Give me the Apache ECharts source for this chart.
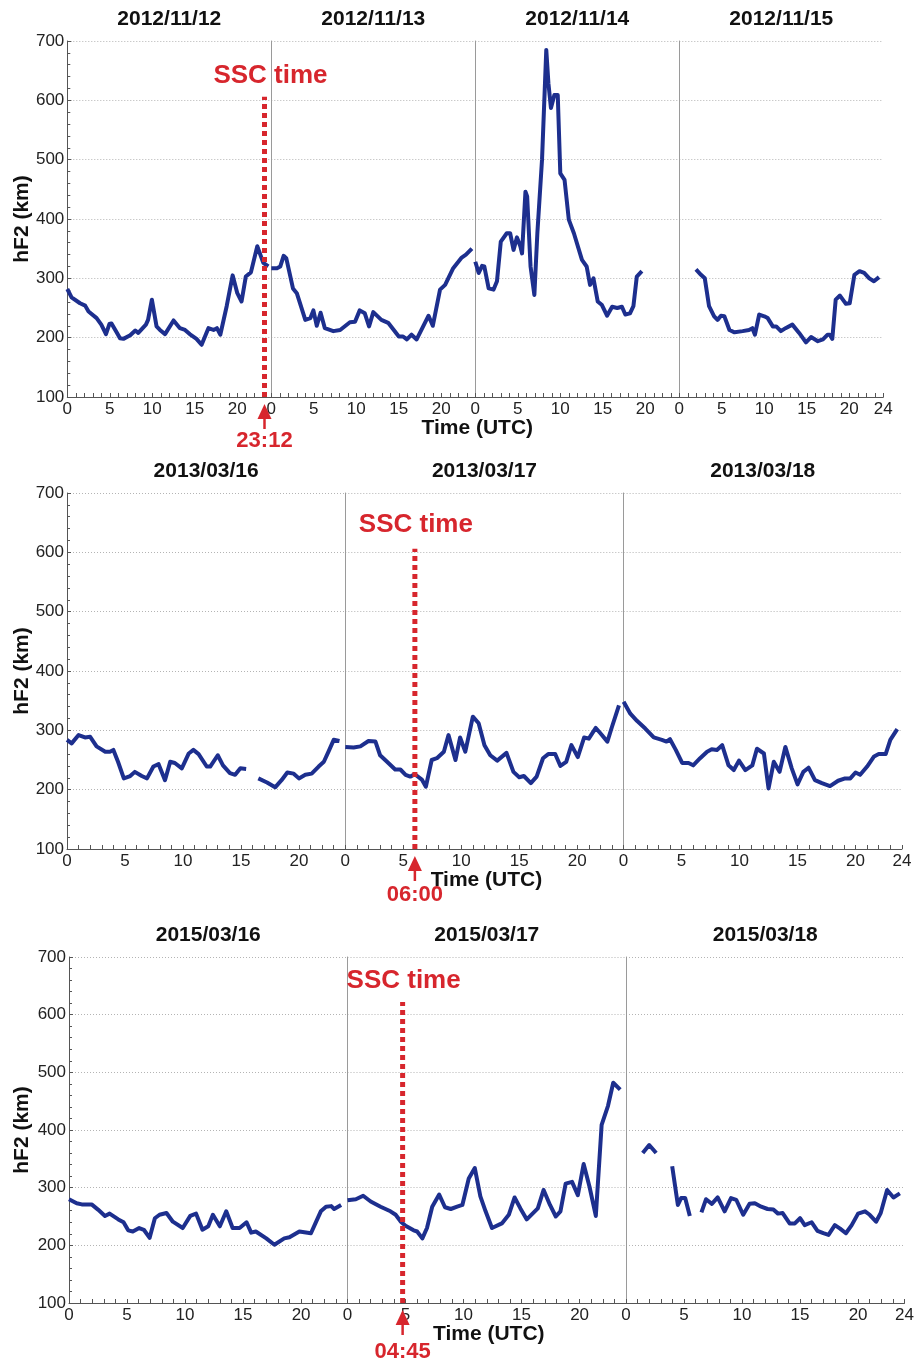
<!DOCTYPE html>
<html>
<head>
<meta charset="utf-8">
<script src="https://cdn.jsdelivr.net/npm/echarts@6/dist/echarts.min.js"></script>
<style>
  html, body { margin: 0; padding: 0; background: #fff; }
  #chart { width: 918px; height: 1362px; }
</style>
</head>
<body>
<div id="chart"></div>
<script>
// hF2 (km) per day as [UTC hour, height]; a null height marks a data gap.
const hf2_20121112 = [[0,282],[0.5,268],[1.5,258],[2.1,254],[2.5,244],[3.45,233],[4.0,222],[4.55,206],[4.95,223],[5.2,224],[5.8,209],[6.2,199],[6.6,198],[7.4,204],[8.0,212],[8.35,208],[9.25,222],[9.5,230],[9.95,264],[10.5,219],[10.9,213],[11.5,206],[12.5,229],[13.25,216],[13.85,213],[14.4,206],[15.2,198],[15.8,188],[16.6,216],[17.2,213],[17.6,216],[18.0,205],[18.75,253],[19.45,305],[20.0,275],[20.5,261],[21.0,303],[21.6,310],[22.35,354],[23.06,326],[23.65,320]];
const hf2_20121113 = [[0,317],[0.67,317],[1.06,320],[1.45,338],[1.76,334],[2.55,283],[3.0,275],[4.0,230],[4.6,233],[4.95,246],[5.35,220],[5.8,242],[6.3,216],[7.3,211],[8.1,213],[9.25,226],[9.85,227],[10.4,246],[11.0,241],[11.5,219],[12.0,243],[12.95,230],[13.75,225],[15.0,202],[15.5,202],[15.95,197],[16.5,205],[17.1,197],[18.5,237],[19.0,220],[19.85,281],[20.45,289],[21.4,317],[22.4,335],[22.9,340],[23.6,350]];
const hf2_20121114 = [[0,328],[0.4,309],[0.8,321],[1.06,320],[1.57,283],[2.15,281],[2.55,295],[3.0,362],[3.7,376],[4.1,376],[4.5,348],[4.9,369],[5.3,354],[5.5,342],[5.9,446],[6.1,438],[6.5,320],[6.95,272],[7.3,376],[7.85,500],[8.35,685],[8.6,629],[8.9,587],[9.3,609],[9.7,609],[10.0,477],[10.5,466],[11.0,399],[11.6,376],[12.55,331],[13.1,320],[13.5,289],[13.9,300],[14.4,261],[14.9,255],[15.5,237],[16.1,252],[16.7,250],[17.25,252],[17.65,239],[18.2,241],[18.6,253],[19.0,303],[19.6,312]];
const hf2_20121115 = [[1.96,315],[2.55,306],[3.0,300],[3.5,253],[4.1,236],[4.5,230],[4.9,237],[5.3,236],[5.9,213],[6.5,209],[7.45,211],[8.2,213],[8.6,216],[8.9,205],[9.4,239],[10.0,236],[10.4,233],[11.0,219],[11.4,219],[11.95,211],[12.5,216],[13.3,222],[14.1,208],[14.9,192],[15.5,201],[16.3,194],[16.9,197],[17.45,205],[17.7,205],[18.0,198],[18.4,264],[18.9,271],[19.6,257],[20.05,258],[20.6,306],[21.2,312],[21.75,309],[22.35,300],[22.9,295],[23.5,302]];

const hf2_20130316 = [[0,284],[0.4,278],[1.0,292],[1.55,288],[2.0,289],[2.55,273],[3.3,264],[3.7,264],[4.0,267],[4.4,247],[4.9,219],[5.45,223],[5.85,230],[6.45,223],[6.9,219],[7.45,239],[7.9,243],[8.45,216],[8.9,247],[9.3,245],[9.9,236],[10.5,261],[10.9,267],[11.35,260],[12.05,239],[12.35,239],[13.0,258],[13.45,241],[14.05,228],[14.5,225],[14.95,236],[15.45,235],[16.0,null],[16.5,219],[17.25,212],[17.95,204],[18.5,216],[19.0,229],[19.55,227],[20.0,219],[20.55,225],[21.1,227],[21.7,239],[22.15,247],[22.55,264],[23.0,284],[23.5,282]];
const hf2_20130317 = [[0,272],[0.72,271],[1.3,273],[2.0,282],[2.6,281],[3.0,258],[3.6,247],[4.3,234],[4.75,234],[5.2,225],[5.6,222],[6.0,226],[6.6,217],[6.95,205],[7.45,250],[7.9,253],[8.5,264],[8.9,292],[9.5,250],[9.9,288],[10.35,264],[11.0,323],[11.5,312],[12.0,275],[12.5,258],[13.1,249],[13.9,262],[14.5,230],[15.0,221],[15.4,223],[16.0,211],[16.5,222],[17.05,253],[17.5,260],[18.1,260],[18.55,240],[19.05,247],[19.5,275],[20.05,255],[20.6,288],[21.0,286],[21.6,304],[22.0,295],[22.6,281],[23.0,306],[23.6,342]];
const hf2_20130318 = [[0,348],[0.58,328],[1.15,316],[1.87,303],[2.6,288],[3.3,284],[3.7,281],[4.0,285],[4.5,267],[5.05,245],[5.6,245],[6.0,241],[6.6,253],[7.2,264],[7.6,268],[8.05,267],[8.5,275],[9.05,241],[9.5,233],[9.95,249],[10.5,233],[11.1,241],[11.5,269],[12.1,261],[12.5,202],[12.95,247],[13.45,230],[13.95,272],[14.5,236],[15.0,209],[15.5,230],[15.95,237],[16.5,216],[17.1,211],[17.8,206],[18.5,215],[19.1,219],[19.55,219],[20.0,229],[20.4,225],[21.0,239],[21.6,256],[22.0,260],[22.6,260],[23.0,284],[23.6,302]];

const hf2_20150316 = [[0,280],[0.66,273],[1.1,271],[1.95,271],[2.5,262],[3.1,251],[3.5,255],[4.25,245],[4.7,240],[5.1,226],[5.5,224],[6.05,230],[6.45,227],[6.95,213],[7.4,247],[7.8,253],[8.4,256],[8.95,241],[9.8,230],[10.45,251],[10.95,255],[11.5,227],[12.0,233],[12.4,253],[13.0,233],[13.55,259],[14.1,230],[14.7,230],[15.3,240],[15.7,222],[16.1,224],[17.0,212],[17.7,201],[18.55,212],[19.0,214],[19.85,224],[20.85,221],[21.3,241],[21.7,259],[22.15,267],[22.6,268],[22.85,263],[23.45,270]];
const hf2_20150317 = [[0,278],[0.72,280],[1.35,286],[2.0,276],[2.85,267],[3.7,259],[4.15,253],[4.6,241],[5.0,234],[5.7,226],[6.0,224],[6.45,212],[6.85,230],[7.3,267],[7.9,288],[8.4,266],[8.9,263],[9.45,267],[9.9,270],[10.45,316],[10.97,334],[11.45,285],[11.9,259],[12.45,230],[13.3,238],[13.9,253],[14.4,283],[14.9,264],[15.45,245],[16.4,264],[16.9,296],[17.45,270],[17.95,250],[18.35,259],[18.8,307],[19.35,310],[19.85,287],[20.35,341],[20.85,302],[21.4,251],[21.9,409],[22.45,442],[22.9,482],[23.5,470]];
const hf2_20150318 = [[1.44,360],[2.0,374],[2.6,360],[3.3,null],[3.98,337],[4.47,270],[4.75,282],[5.1,282],[5.5,251],[6.0,null],[6.5,257],[6.9,280],[7.4,272],[7.9,283],[8.5,259],[9.05,282],[9.5,279],[10.1,253],[10.65,272],[11.1,273],[11.65,267],[12.2,263],[12.7,262],[13.1,255],[13.5,256],[14.1,238],[14.55,238],[15.0,247],[15.4,235],[16.0,240],[16.5,225],[17.0,221],[17.45,218],[18.0,235],[18.45,229],[18.95,221],[19.45,235],[20.0,255],[20.6,259],[21.0,253],[21.55,241],[21.95,256],[22.5,296],[23.05,283],[23.6,290]];

// Panel contents: day titles, series and SSC onset (day index, UTC hour, label)
const dayTitles = [
  ['2012/11/12', '2012/11/13', '2012/11/14', '2012/11/15'],
  ['2013/03/16', '2013/03/17', '2013/03/18'],
  ['2015/03/16', '2015/03/17', '2015/03/18']
];
const daySeries = [
  [hf2_20121112, hf2_20121113, hf2_20121114, hf2_20121115],
  [hf2_20130316, hf2_20130317, hf2_20130318],
  [hf2_20150316, hf2_20150317, hf2_20150318]
];
const sscDay = [0, 1, 1];
const sscHour = [23.2, 6.0, 4.75];
const sscLabel = ['23:12', '06:00', '04:45'];
const sscTop = [606, 606, 622];
const yTicks = [100, 700, 100]; // min, max, step

// Page layout of each panel (pixels)
const layout = [
  { left: 67.3, top: 41, dayWidth: 204, height: 356, labelGap: 44, sscText: 641, sscDx: 6 },
  { left: 67, top: 493, dayWidth: 278.3, height: 356, labelGap: 46, sscText: 647, sscDx: 1 },
  { left: 69, top: 957, dayWidth: 278.5, height: 346, labelGap: 49, sscText: 658, sscDx: 1 }
];

const FONT = "'Liberation Sans', Arial, sans-serif";
const BLUE = '#1d2f8e';
const RED = '#d7262d';
const AXIS = '#555';

const grids = [], xAxes = [], yAxes = [], series = [];
const gridIdx = []; // [panel][day] -> grid index

layout.forEach((L, p) => {
  gridIdx.push([]);
  const n = dayTitles[p].length;
  for (let d = 0; d < n; d++) {
    const gi = grids.length;
    gridIdx[p].push(gi);
    const first = d === 0, last = d === n - 1;
    grids.push({ left: L.left + d * L.dayWidth, top: L.top, width: L.dayWidth, height: L.height });
    xAxes.push({
      type: 'value', gridIndex: gi, min: 0, max: 24, interval: 1,
      axisLine: { show: true, onZero: false, lineStyle: { color: AXIS, width: 1 } },
      axisTick: { show: true, inside: true, length: 4, lineStyle: { color: AXIS } },
      axisLabel: {
        fontSize: 17, color: '#222', margin: 4, fontFamily: FONT,
        showMinLabel: true, showMaxLabel: true,
        formatter: v => ((v % 5 === 0 && v < 24) || (last && v === 24)) ? String(v) : ''
      },
      splitLine: { show: false }
    });
    yAxes.push({
      type: 'value', gridIndex: gi, min: yTicks[0], max: yTicks[1], interval: yTicks[2],
      axisLine: { show: true, lineStyle: { color: first ? AXIS : '#9a9a9a', width: 1 } },
      axisTick: { show: first, inside: true, length: 4, lineStyle: { color: AXIS } },
      minorTick: { show: first, splitNumber: 5, length: 3, lineStyle: { color: AXIS } },
      axisLabel: { show: first, fontSize: 17, color: '#222', margin: 3, fontFamily: FONT },
      splitLine: { show: true, lineStyle: { color: '#b4b4b4', type: [1, 2], width: 1 } }
    });
    series.push({
      type: 'line', xAxisIndex: gi, yAxisIndex: gi, data: daySeries[p][d],
      showSymbol: false, connectNulls: false, clip: true, z: 3,
      lineStyle: { color: BLUE, width: 4, join: 'round' }, silent: true
    });
    if (d === sscDay[p]) {
      // dotted SSC onset marker, from the axis up to sscTop
      series.push({
        type: 'line', xAxisIndex: gi, yAxisIndex: gi, z: 5, silent: true,
        data: [[sscHour[p], yTicks[0]], [sscHour[p], sscTop[p]]],
        showSymbol: false, clip: false,
        lineStyle: { color: RED, width: 5, type: [5, 4], cap: 'butt' }
      });
    }
  }
});

const chart = echarts.init(document.getElementById('chart'), null, { renderer: 'canvas' });
chart.setOption({
  animation: false,
  textStyle: { fontFamily: FONT },
  grid: grids, xAxis: xAxes, yAxis: yAxes, series: series
});

// Text and arrow overlays positioned through each grid's coordinate system
const graphics = [];
const txt = (text, x, y, font, fill, rotation) => ({
  type: 'text', x: x, y: y, rotation: rotation || 0, silent: true, z: 10,
  style: { text: text, font: font, fill: fill, align: 'center', verticalAlign: 'middle',
           textAlign: 'center', textVerticalAlign: 'middle' }
});

layout.forEach((L, p) => {
  const n = dayTitles[p].length;
  for (let d = 0; d < n; d++) {
    const gi = gridIdx[p][d];
    const c = chart.convertToPixel({ xAxisIndex: gi, yAxisIndex: gi }, [12, yTicks[1]]);
    graphics.push(txt(dayTitles[p][d], c[0], c[1] - 22, 'bold 21px ' + FONT, '#111'));
  }
  const g0 = gridIdx[p][0], gN = gridIdx[p][n - 1];
  const a = chart.convertToPixel({ xAxisIndex: g0, yAxisIndex: g0 }, [0, yTicks[0]]);
  const b = chart.convertToPixel({ xAxisIndex: gN, yAxisIndex: gN }, [24, yTicks[1]]);
  graphics.push(txt('Time (UTC)', (a[0] + b[0]) / 2 + 2, a[1] + 31, 'bold 21px ' + FONT, '#111'));
  graphics.push(txt('hF2 (km)', 22, (a[1] + b[1]) / 2, 'bold 21px ' + FONT, '#111', Math.PI / 2));

  const gs = gridIdx[p][sscDay[p]];
  const base = chart.convertToPixel({ xAxisIndex: gs, yAxisIndex: gs }, [sscHour[p], yTicks[0]]);
  const top = chart.convertToPixel({ xAxisIndex: gs, yAxisIndex: gs }, [sscHour[p], L.sscText]);
  const x = base[0], y0 = base[1];
  graphics.push(txt('SSC time', x + L.sscDx, top[1], 'bold 26px ' + FONT, RED));
  graphics.push({ type: 'polygon', silent: true, z: 10,
    shape: { points: [[x, y0 + 7], [x - 7, y0 + 22], [x + 7, y0 + 22]] }, style: { fill: RED } });
  graphics.push({ type: 'line', silent: true, z: 10,
    shape: { x1: x, y1: y0 + 20, x2: x, y2: y0 + 32 }, style: { stroke: RED, lineWidth: 2.5 } });
  graphics.push(txt(sscLabel[p], x, y0 + L.labelGap, 'bold 22px ' + FONT, RED));
});

chart.setOption({ graphic: { elements: graphics } });
</script>
</body>
</html>
